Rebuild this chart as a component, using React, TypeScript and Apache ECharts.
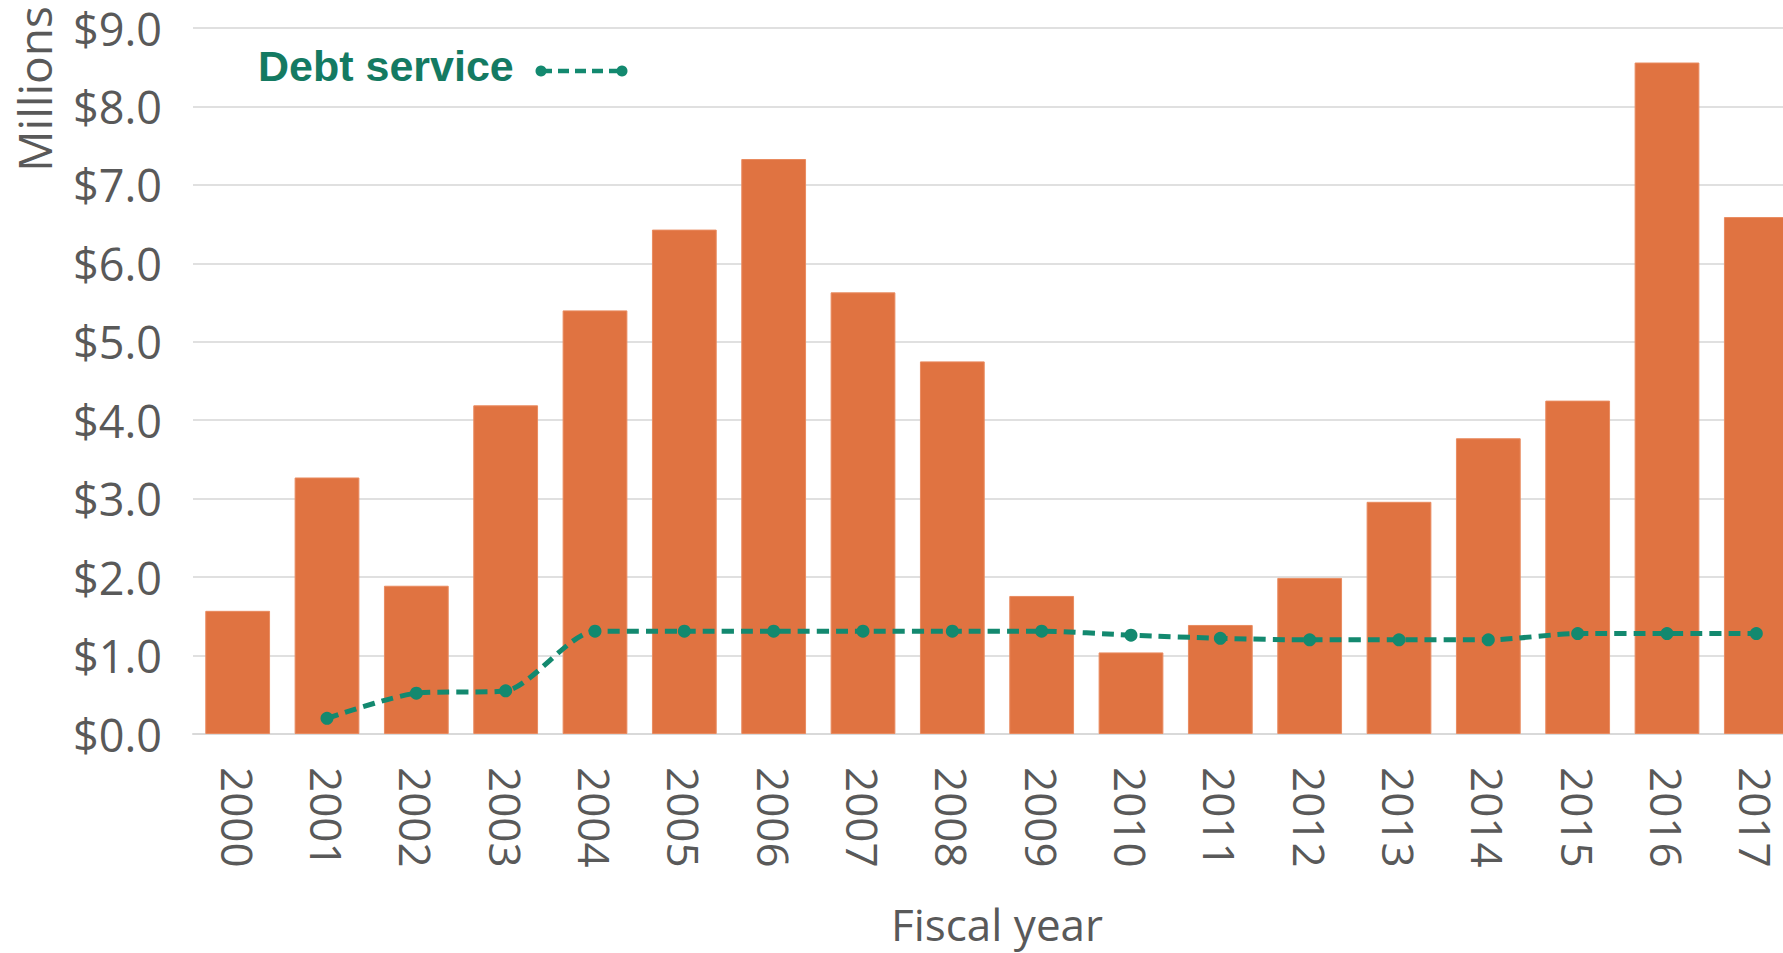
import React, { useEffect, useRef } from "react";
import * as echarts from "echarts";

const years = ["2000","2001","2002","2003","2004","2005","2006","2007","2008","2009","2010","2011","2012","2013","2014","2015","2016","2017"];
const totalValues = [1.57, 3.27, 1.89, 4.19, 5.40, 6.43, 7.33, 5.63, 4.75, 1.76, 1.04, 1.39, 1.99, 2.96, 3.77, 4.25, 8.56, 6.59];
const debtService = [null, 0.20, 0.52, 0.55, 1.31, 1.31, 1.31, 1.31, 1.31, 1.31, 1.26, 1.22, 1.20, 1.20, 1.20, 1.28, 1.28, 1.28];
const yTicks = { min: 0, max: 9, interval: 1 };

const BAR = "#E07341";
const TEAL = "#13896F";
const TEAL_TEXT = "#147A62";
const GRAY = "#595959";
const FONT = "'Open Sans', sans-serif";

export default function App() {
  const ref = useRef<HTMLDivElement>(null);
  useEffect(() => {
    if (!ref.current) return;
    const chart = echarts.init(ref.current, undefined, { renderer: "svg" });
    chart.setOption({
      animation: false,
      backgroundColor: "#ffffff",
      grid: { left: 193, right: -18, top: 28, bottom: 219, containLabel: false, outerBoundsMode: "none" },
      xAxis: {
        type: "category",
        data: years,
        axisLine: { lineStyle: { color: "#D9D9D9", width: 2 } },
        axisTick: { show: false },
        axisLabel: { rotate: -90, margin: 33, fontFamily: FONT, fontSize: 44, color: GRAY },
      },
      yAxis: {
        type: "value",
        min: yTicks.min,
        max: yTicks.max,
        interval: yTicks.interval,
        axisLine: { show: false },
        axisTick: { show: false },
        splitLine: { lineStyle: { color: "#E0E0E0", width: 2 } },
        axisLabel: {
          margin: 31,
          fontFamily: FONT,
          fontSize: 45,
          color: GRAY,
          formatter: (v: number) => "$" + v.toFixed(1),
        },
      },
      graphic: [
        {
          type: "text",
          x: 34,
          y: 89,
          rotation: Math.PI / 2,
          style: { text: "Millions", fontFamily: FONT, fontSize: 46, fill: GRAY, align: "center", verticalAlign: "middle" },
        },
        {
          type: "text",
          x: 997,
          y: 924,
          style: { text: "Fiscal year", fontFamily: FONT, fontSize: 44, fill: GRAY, align: "center", verticalAlign: "middle" },
        },
        {
          type: "text",
          x: 258,
          y: 66,
          style: { text: "Debt service", fontFamily: "'Liberation Sans', Arial, sans-serif", fontWeight: "bold", fontSize: 43, fill: TEAL_TEXT, align: "left", verticalAlign: "middle" },
        },
        {
          type: "line",
          shape: { x1: 541, y1: 71, x2: 622, y2: 71 },
          style: { stroke: TEAL, lineWidth: 4.5, lineDash: [11, 6] },
        },
        { type: "circle", shape: { cx: 541, cy: 71, r: 5.5 }, style: { fill: TEAL } },
        { type: "circle", shape: { cx: 622, cy: 71, r: 5.5 }, style: { fill: TEAL } },
      ],
      series: [
        {
          name: "Total",
          type: "bar",
          data: totalValues,
          barWidth: "72.5%",
          itemStyle: { color: BAR, borderColor: "#E98B60", borderWidth: 1 },
        },
        {
          name: "Debt service",
          type: "line",
          data: debtService,
          smooth: 0.25,
          symbol: "circle",
          symbolSize: 13,
          itemStyle: { color: TEAL },
          lineStyle: { color: TEAL, width: 5, type: [12, 7] },
        },
      ],
    });
    return () => chart.dispose();
  }, []);
  return <div ref={ref} style={{ position: "fixed", left: 0, top: 0, width: 1783, height: 953 }} />;
}
